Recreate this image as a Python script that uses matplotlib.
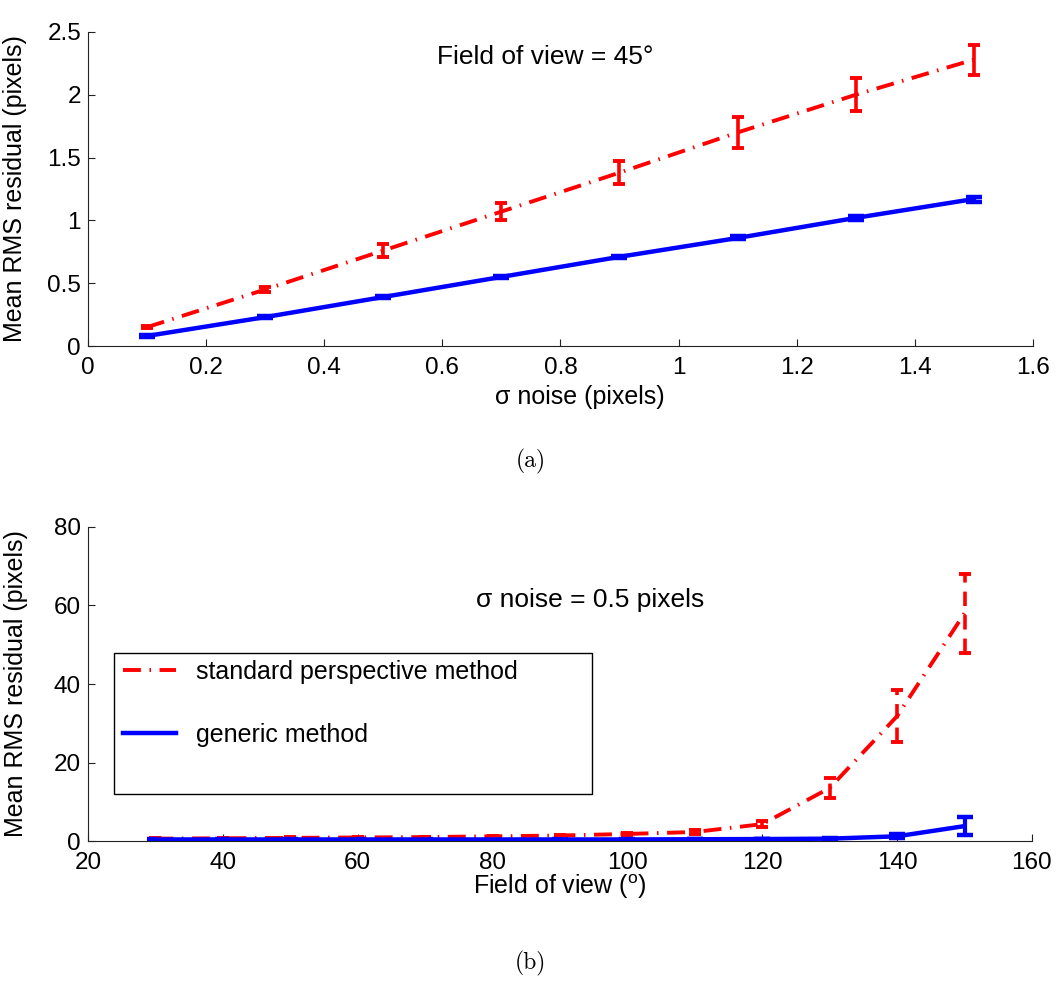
import matplotlib
matplotlib.use('Agg')
import matplotlib.pyplot as plt
from matplotlib.patches import Rectangle

plt.rcParams['font.family'] = ['Liberation Sans', 'DejaVu Sans']
plt.rcParams['mathtext.fontset'] = 'custom'
plt.rcParams['mathtext.rm'] = 'Liberation Sans'

# (a) residual vs noise, fov = 45 deg
noise = [0.1, 0.3, 0.5, 0.7, 0.9, 1.1, 1.3, 1.5]
std_a = [0.15, 0.45, 0.76, 1.07, 1.38, 1.70, 2.00, 2.28]
std_a_err = [0.01, 0.02, 0.05, 0.07, 0.09, 0.12, 0.13, 0.12]
gen_a = [0.08, 0.23, 0.39, 0.55, 0.71, 0.86, 1.02, 1.17]
gen_a_err = [0.005, 0.008, 0.01, 0.01, 0.01, 0.012, 0.015, 0.02]

# (b) residual vs field of view, noise = 0.5 px
fov = [30, 40, 50, 60, 70, 80, 90, 100, 110, 120, 130, 140, 150]
std_b = [0.6, 0.7, 0.8, 0.9, 1.0, 1.2, 1.4, 1.8, 2.3, 4.3, 13.5, 31.8, 58.0]
std_b_err = [0.1, 0.1, 0.1, 0.1, 0.1, 0.15, 0.2, 0.3, 0.4, 0.8, 2.5, 6.6, 10.0]
gen_b = [0.4, 0.4, 0.4, 0.4, 0.4, 0.4, 0.4, 0.4, 0.45, 0.5, 0.6, 1.2, 3.8]
gen_b_err = [0.05, 0.05, 0.05, 0.05, 0.05, 0.05, 0.05, 0.05, 0.05, 0.1, 0.2, 0.5, 2.3]

fig = plt.figure(figsize=(10.61, 9.96), dpi=100)
ax1 = fig.add_axes([0.0829, 0.6526, 0.8906, 0.3153])
ax2 = fig.add_axes([0.0829, 0.1556, 0.8897, 0.3153])

dashdot = (4.6, 2.2, 0.4, 2.2)


def style(ax):
    ax.spines['top'].set_visible(False)
    ax.spines['right'].set_visible(False)
    for s in ['left', 'bottom']:
        ax.spines[s].set_linewidth(0.8)
        ax.spines[s].set_color('#222222')
    ax.tick_params(direction='in', length=5, width=0.8, labelsize=17.5,
                   color='#222222')
    ax.tick_params(axis='x', pad=8)
    ax.tick_params(axis='y', pad=5)


# top panel
r = ax1.errorbar(noise, std_a, yerr=std_a_err, color='red', lw=2.8,
                 capsize=4, capthick=2.8, elinewidth=2.6)
r[0].set_dashes(dashdot)
b = ax1.errorbar(noise, gen_a, yerr=gen_a_err, color='blue', lw=3.2,
                 capsize=6, capthick=3.2, elinewidth=3)
ax1.set_xlim(0, 1.6)
ax1.set_ylim(0, 2.5)
ax1.set_xticks([0, 0.2, 0.4, 0.6, 0.8, 1, 1.2, 1.4, 1.6])
ax1.set_xticklabels(['0', '0.2', '0.4', '0.6', '0.8', '1', '1.2', '1.4', '1.6'])
ax1.set_yticks([0, 0.5, 1, 1.5, 2, 2.5])
ax1.set_yticklabels(['0', '0.5', '1', '1.5', '2', '2.5'])
style(ax1)
ax1.set_xlabel('σ noise (pixels)', fontsize=18, va='center')
ax1.xaxis.set_label_coords(0.521, -0.162)
ax1.set_ylabel('Mean RMS residual (pixels)', fontsize=18)
ax1.yaxis.set_label_coords(-0.064, 0.5)
ax1.text(0.774, 2.30, 'Field of view = 45°', fontsize=19,
         ha='center', va='center')

# bottom panel
r2 = ax2.errorbar(fov, std_b, yerr=std_b_err, color='red', lw=2.8,
                  capsize=4.5, capthick=2.8, elinewidth=2.6,
                  label='standard perspective method')
r2[0].set_dashes(dashdot)
r2[2][0].set_linestyle((0, (4, 2.5)))
b2 = ax2.errorbar(fov, gen_b, yerr=gen_b_err, color='blue', lw=3.2,
                  capsize=6, capthick=3.2, elinewidth=3,
                  label='generic method')
ax2.set_xlim(20, 160)
ax2.set_ylim(0, 80)
ax2.set_xticks([20, 40, 60, 80, 100, 120, 140, 160])
ax2.set_yticks([0, 20, 40, 60, 80])
style(ax2)
ax2.set_xlabel('Field of view ($^{\\mathrm{o}}$)', fontsize=18, va='center')
ax2.xaxis.set_label_coords(0.5, -0.145)
ax2.set_ylabel('Mean RMS residual (pixels)', fontsize=18)
ax2.yaxis.set_label_coords(-0.064, 0.5)
ax2.text(94.5, 61.4, 'σ noise = 0.5 pixels', fontsize=19,
         ha='center', va='center')

handles = [r2[0], b2[0]]
ax2.legend(handles, ['standard perspective method', 'generic method'],
           loc='upper left', bbox_to_anchor=(0.028, 0.605), frameon=False,
           fontsize=18, handlelength=2.1, handletextpad=0.8,
           labelspacing=1.55, borderaxespad=0, borderpad=0.35)
ax2.add_patch(Rectangle((0.0275, 0.150), 0.5065, 0.449, transform=ax2.transAxes,
                        fill=False, edgecolor='black', lw=1.0, zorder=5))

fig.text(0.5, 1 - 461 / 996, '(a)', fontsize=17, family='cmr10',
         ha='center', va='center')
fig.text(0.5, 1 - 963 / 996, '(b)', fontsize=17, family='cmr10',
         ha='center', va='center')

fig.savefig('out.png', dpi=100)
